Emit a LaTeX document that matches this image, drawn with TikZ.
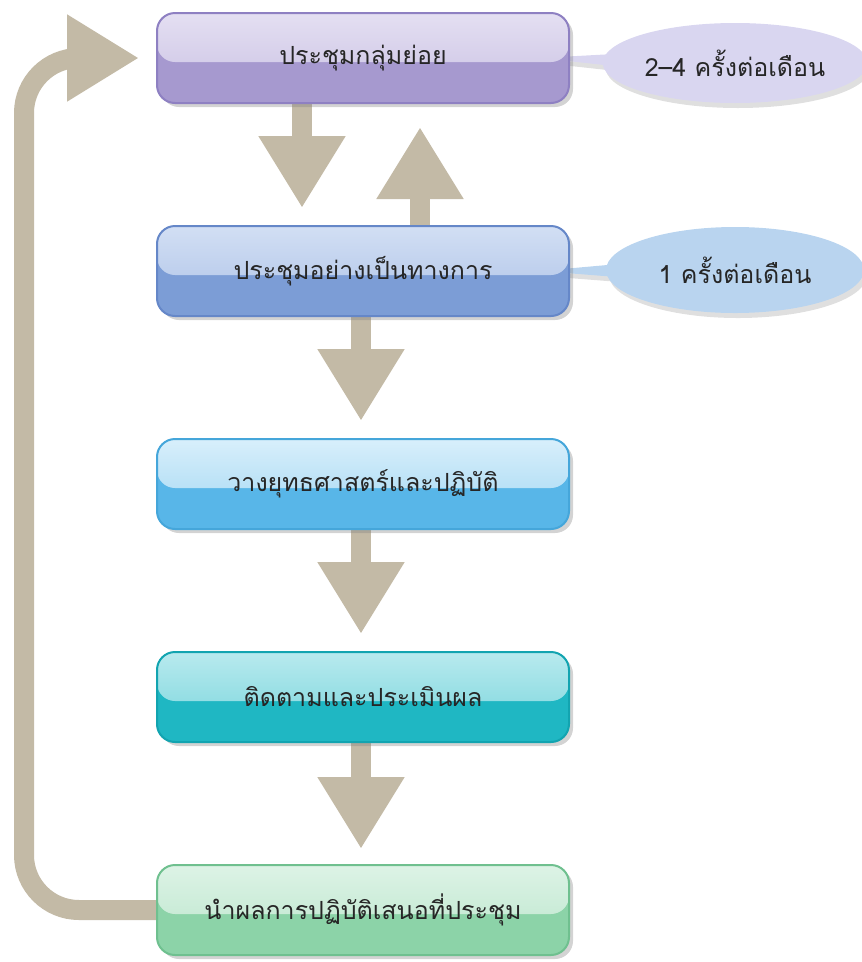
\documentclass[tikz,border=0pt]{standalone}
\usepackage{fontspec}
\newfontfamily\thaifont[Script=Thai]{Loma}
\usetikzlibrary{positioning,arrows.meta,shapes.callouts,shadows,backgrounds}

\definecolor{tanarrow}{HTML}{C3BAA6}
\definecolor{purpleTop}{HTML}{E4DFF2}
\definecolor{purpleBot}{HTML}{A699CF}
\definecolor{purpleLine}{HTML}{8E80C2}
\definecolor{blueTop}{HTML}{D2DFF4}
\definecolor{blueBot}{HTML}{7C9DD6}
\definecolor{blueLine}{HTML}{6587C8}
\definecolor{skyTop}{HTML}{D8EFFB}
\definecolor{skyBot}{HTML}{58B6E8}
\definecolor{skyLine}{HTML}{45A6DA}
\definecolor{tealTop}{HTML}{B8EAEE}
\definecolor{tealBot}{HTML}{1FB7C3}
\definecolor{tealLine}{HTML}{12A4B0}
\definecolor{greenTop}{HTML}{DDF3E6}
\definecolor{greenBot}{HTML}{8CD3A8}
\definecolor{greenLine}{HTML}{6FC08F}
\definecolor{noteOne}{HTML}{D9D6F0}
\definecolor{noteTwo}{HTML}{B9D4EF}

\tikzset{
  glossbox/.style n args={3}{rounded corners=18pt, draw=#3, line width=2pt,
    fill=#2, minimum width=412pt, minimum height=90pt, text=black!85,
    font=\thaifont\fontsize{25}{30}\selectfont,
    drop shadow={shadow xshift=4pt, shadow yshift=-4pt, opacity=0.35},
    path picture={\fill[top color=#1, bottom color=#1!55!#2]
      (path picture bounding box.north west) rectangle ([yshift=-4pt]path picture bounding box.east);}},
  flow/.style={draw=tanarrow, line width=20pt, -{Triangle[length=72pt,width=82pt]}},
  note/.style={ellipse callout, fill=#1, minimum width=258pt, minimum height=80pt,
    text=black!85, font=\thaifont\fontsize{25}{30}\selectfont,
    drop shadow={shadow xshift=3pt, shadow yshift=-5pt, opacity=0.25}},
}

\begin{document}
\begin{tikzpicture}[x=1pt,y=-1pt]
  \useasboundingbox (0,0) rectangle (862,962);

  % the five steps
  \node[glossbox={purpleTop}{purpleBot}{purpleLine}] (meetsmall) at (363,58) {ประชุมกลุ่มย่อย};
  \node[glossbox={blueTop}{blueBot}{blueLine}, below=121pt of meetsmall] (meetformal) {ประชุมอย่างเป็นทางการ};
  \node[glossbox={skyTop}{skyBot}{skyLine}, below=121pt of meetformal] (strategy) {วางยุทธศาสตร์และปฏิบัติ};
  \node[glossbox={tealTop}{tealBot}{tealLine}, below=121pt of strategy] (follow) {ติดตามและประเมินผล};
  \node[glossbox={greenTop}{greenBot}{greenLine}, below=121pt of follow] (report) {นำผลการปฏิบัติเสนอที่ประชุม};

  \begin{scope}[on background layer]
    % how often
    \node[note=noteOne, callout absolute pointer={([xshift=-30pt]meetsmall.east)}] (oftensmall) at (735,63) {2–4 ครั้งต่อเดือน};
    \node[note=noteTwo, minimum height=86pt, callout absolute pointer={([xshift=-30pt]meetformal.east)}] (oftenformal) at (735,270) {1 ครั้งต่อเดือน};

    % arrows
    \draw[flow, shorten >=17pt] ([xshift=-61pt]meetsmall.south) -- ([xshift=-61pt]meetformal.north);
    \draw[flow, shorten >=23pt] ([xshift=57pt]meetformal.north) -- ([xshift=57pt]meetsmall.south);
    \draw[flow, shorten >=17pt] ([xshift=-2pt]meetformal.south) -- ([xshift=-2pt]strategy.north);
    \draw[flow, shorten >=17pt] ([xshift=-2pt]strategy.south) -- ([xshift=-2pt]follow.north);
    \draw[flow, shorten >=15pt] ([xshift=-2pt]follow.south) -- ([xshift=-2pt]report.north);
    \coordinate (loopside) at (24,480);
    \draw[flow, rounded corners=55pt, shorten >=17pt] (report.west) -| (loopside) |- (meetsmall.west);
  \end{scope}
\end{tikzpicture}
\end{document}
